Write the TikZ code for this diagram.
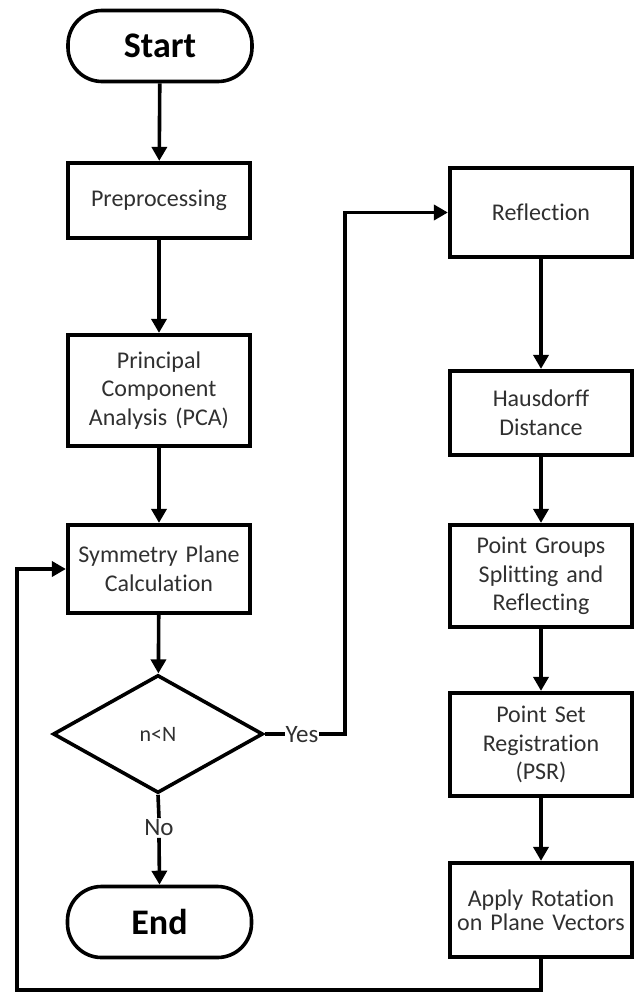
\documentclass[tikz,border=0pt]{standalone}
\usepackage{fontspec}
\setmainfont{Carlito}[Ligatures={NoCommon}]
\usetikzlibrary{arrows.meta,shapes.geometric}
\definecolor{txt}{HTML}{303030}
\begin{document}
\begin{tikzpicture}[x=1pt,y=-1pt,
  box/.style={draw, line width=4.2pt, minimum width=182pt, text width=178pt, align=center,
    inner sep=0pt, font=\fontsize{24}{28.5}\selectfont, text=txt},
  term/.style={draw, line width=3.6pt, rounded corners=34pt, minimum width=184pt, minimum height=71pt,
    inner sep=0pt, font=\bfseries\fontsize{36}{40}\selectfont},
  dec/.style={draw, diamond, line width=3.6pt, minimum width=210pt, minimum height=118pt,
    inner sep=0pt, font=\fontsize{22}{26}\selectfont, text=txt},
  lbl/.style={inner sep=1.5pt, font=\fontsize{25}{26}\selectfont, text=txt},
  line/.style={line width=3.6pt},
  conn/.style={line width=3.6pt, -{Triangle[length=14pt,width=15pt]}},
]
\useasboundingbox (0,0) rectangle (636,995);

\node[term] (start) at (160,46) {Start};
\node[box, minimum height=75pt] (pre) at (159,200.5) {Preprocessing};
\node[box, minimum height=111pt] (pca) at (159,390.5) {Principal\\Component\\Analysis (PCA)};
\node[box, minimum height=88pt] (sym) at (159,569) {Symmetry Plane\\Calculation};
\node[dec] (dec) at (158,734) {n<N};
\node[lbl] (no) at (159,828) {No};
\node[term] (end) at (159.5,922) {End};
\node[lbl, inner sep=0.5pt] (yes) at (302,735) {Yes};

\node[box, minimum height=89pt] (refl) at (541,212.5) {Reflection};
\node[box, minimum height=84pt] (haus) at (541,413) {Hausdorff\\Distance};
\node[box, minimum height=102pt] (pg) at (541,576) {Point Groups\\Splitting and\\Reflecting};
\node[box, minimum height=103pt] (psr) at (541,744.5) {Point Set\\Registration\\(PSR)};
\node[box, minimum height=94pt, font=\fontsize{24}{24.5}\selectfont] (app) at (541,910) {Apply Rotation\\on Plane Vectors};

\coordinate (yc) at (345,212.5);
\coordinate (lb) at (17,990);

\draw[conn] (start) -- (pre);
\draw[conn] (pre) -- (pca);
\draw[conn] (pca) -- (sym);
\draw[conn] (sym) -- (dec);
\draw[line] (dec.south) -- (no.north);
\draw[conn] (no.south) -- (end.north);
\draw[line] (dec.east) -- (dec.east -| yes.west);
\draw[conn] (yes.east |- dec.east) -| (yc) -- (refl.west);
\draw[conn] (refl) -- (haus);
\draw[conn] (haus) -- (pg);
\draw[conn] (pg) -- (psr);
\draw[conn] (psr) -- (app);
\draw[conn] (app.south) |- (lb) |- (sym.west);
\end{tikzpicture}
\end{document}
